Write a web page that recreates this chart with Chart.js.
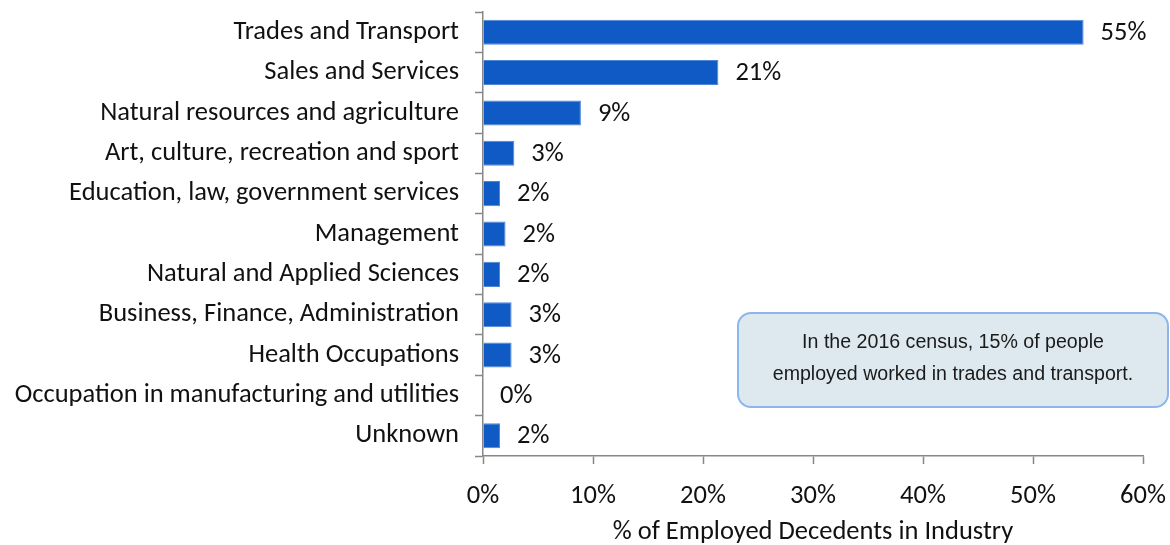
<!DOCTYPE html>
<html lang="en">
<head>
    <meta charset="UTF-8">
    <title>Employed Decedents by Industry</title>
    <style>
        body {
            margin: 0;
            background: #fff;
        }
        #wrap {
            width: 1170px;
            height: 545px;
        }
    </style>
</head>
<body>
<div id="wrap"><canvas id="myChart" width="1170" height="545"></canvas></div>

<script src="https://cdn.jsdelivr.net/npm/chart.js"></script>
<script>
    // categories (top to bottom)
    const industries = [
        'Trades and Transport',
        'Sales and Services',
        'Natural resources and agriculture',
        'Art, culture, recreation and sport',
        'Education, law, government services',
        'Management',
        'Natural and Applied Sciences',
        'Business, Finance, Administration',
        'Health Occupations',
        'Occupation in manufacturing and utilities',
        'Unknown'
    ];
    // % of employed decedents
    const percents = [54.6, 21.4, 8.9, 2.85, 1.55, 2.05, 1.55, 2.6, 2.6, 0, 1.55];
    const axisTicks = [0, 10, 20, 30, 40, 50, 60];
    const axisTitle = '% of Employed Decedents in Industry';
    const noteLines = ['In the 2016 census, 15% of people', 'employed worked in trades and transport.'];

    const labelFont = '"Carlito", "Lato", "Open Sans", sans-serif';
    const fontSize = 26.5;
    const axisGray = '#878787';

    // draws the value next to each bar
    const valueLabels = {
        id: 'valueLabels',
        afterDatasetsDraw(chart) {
            const ctx = chart.ctx;
            const meta = chart.getDatasetMeta(0);
            ctx.save();
            ctx.font = fontSize + 'px ' + labelFont;
            ctx.fillStyle = '#111';
            ctx.textAlign = 'left';
            ctx.textBaseline = 'middle';
            meta.data.forEach((bar, i) => {
                ctx.fillText(Math.round(percents[i]) + '%', bar.x + 17, bar.y + 1);
            });
            ctx.restore();
        }
    };

    // note box in the lower right
    const noteBox = {
        id: 'noteBox',
        afterDraw(chart) {
            const ctx = chart.ctx;
            const x = 738, y = 313, w = 430, h = 94, r = 13;
            ctx.save();
            ctx.beginPath();
            ctx.roundRect(x, y, w, h, r);
            ctx.fillStyle = '#dde9ee';
            ctx.fill();
            ctx.lineWidth = 2;
            ctx.strokeStyle = '#8db6ec';
            ctx.stroke();
            ctx.fillStyle = '#1a1a1a';
            ctx.font = '19.6px "Liberation Sans Narrow", "Liberation Sans", Arial, sans-serif';
            ctx.textAlign = 'center';
            ctx.textBaseline = 'middle';
            ctx.fillText(noteLines[0], x + w / 2, 343);
            ctx.fillText(noteLines[1], x + w / 2, 375);
            ctx.restore();
        }
    };

    new Chart(document.getElementById('myChart'), {
        type: 'bar',
        data: {
            labels: industries,
            datasets: [{
                data: percents,
                backgroundColor: '#0f5ac4',
                borderColor: '#4d86d6',
                borderWidth: 1,
                barPercentage: 0.62,
                categoryPercentage: 1
            }]
        },
        options: {
            indexAxis: 'y',
            responsive: false,
            animation: false,
            layout: {
                padding: { top: 12, right: 27, bottom: 0, left: 10 }
            },
            plugins: {
                legend: { display: false },
                tooltip: { enabled: false }
            },
            scales: {
                x: {
                    min: axisTicks[0],
                    max: axisTicks[axisTicks.length - 1],
                    afterBuildTicks: (scale) => {
                        scale.ticks = axisTicks.map(v => ({ value: v }));
                    },
                    afterFit: (scale) => {
                        scale.height = 89;
                        scale.paddingLeft = 0;
                        scale.paddingRight = 0;
                    },
                    ticks: {
                        callback: v => v + '%',
                        color: '#111',
                        font: { family: labelFont, size: fontSize },
                        padding: 16,
                        maxRotation: 0
                    },
                    grid: {
                        drawOnChartArea: false,
                        tickLength: 8,
                        tickColor: axisGray,
                        tickWidth: 1.5
                    },
                    border: { color: axisGray, width: 1.5 },
                    title: {
                        display: true,
                        text: axisTitle,
                        color: '#111',
                        font: { family: labelFont, size: fontSize },
                        padding: { top: 2, bottom: -3 }
                    }
                },
                y: {
                    afterFit: (scale) => {
                        scale.width = 473;
                        scale.paddingTop = 0;
                        scale.paddingBottom = 0;
                    },
                    ticks: {
                        color: '#111',
                        font: { family: labelFont, size: fontSize },
                        padding: 16,
                        autoSkip: false
                    },
                    grid: {
                        drawOnChartArea: false,
                        tickLength: 8,
                        tickColor: axisGray,
                        tickWidth: 1.5
                    },
                    border: { color: axisGray, width: 1.5 }
                }
            }
        },
        plugins: [valueLabels, noteBox]
    });
</script>
</body>
</html>
